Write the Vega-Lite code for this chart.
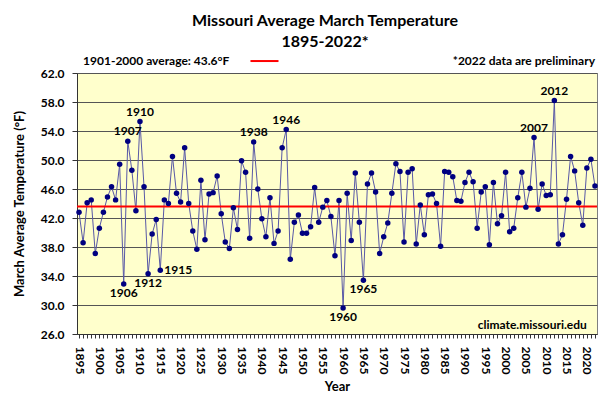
{
  "$schema": "https://vega.github.io/schema/vega-lite/v6.json",
  "width": 520,
  "height": 261,
  "autosize": {"type": "none"},
  "padding": {"left": 77, "top": 73, "right": 3, "bottom": 61},
  "background": "white",
  "config": {
    "font": "Lato",
    "view": {"fill": "#FFFFCC", "stroke": "#7f7f7f", "strokeWidth": 1},
    "axisY": {"labelOverlap": false, "labelFontSize": 12, "labelFontWeight": "bold", "labelColor": "black", "labelPadding": 8, "tickSize": 5, "tickColor": "#333", "domainColor": "#333", "grid": true, "gridColor": "#555555", "gridWidth": 1, "titleFontSize": 13, "titleFontWeight": "bold", "titleColor": "black", "titlePadding": 14}
  },
  "title": {
    "text": ["Missouri Average March Temperature", "1895-2022*"],
    "anchor": "middle",
    "fontSize": 16,
    "fontWeight": "bold",
    "color": "black",
    "dx": -12,
    "offset": 5,
    "lineHeight": 21
  },
  "datasets": {
    "temps": [
      {"Year":1895,"Temp":42.8},{"Year":1896,"Temp":38.6},{"Year":1897,"Temp":44.1},{"Year":1898,"Temp":44.5},{"Year":1899,"Temp":37.1},
      {"Year":1900,"Temp":40.6},{"Year":1901,"Temp":42.8},{"Year":1902,"Temp":44.9},{"Year":1903,"Temp":46.3},{"Year":1904,"Temp":44.5},
      {"Year":1905,"Temp":49.4},{"Year":1906,"Temp":32.9},{"Year":1907,"Temp":52.6},{"Year":1908,"Temp":48.6},{"Year":1909,"Temp":43.0},
      {"Year":1910,"Temp":55.3},{"Year":1911,"Temp":46.3},{"Year":1912,"Temp":34.3},{"Year":1913,"Temp":39.8},{"Year":1914,"Temp":41.8},
      {"Year":1915,"Temp":34.8},{"Year":1916,"Temp":44.5},{"Year":1917,"Temp":44.0},{"Year":1918,"Temp":50.5},{"Year":1919,"Temp":45.4},
      {"Year":1920,"Temp":44.2},{"Year":1921,"Temp":51.7},{"Year":1922,"Temp":44.0},{"Year":1923,"Temp":40.2},{"Year":1924,"Temp":37.7},
      {"Year":1925,"Temp":47.2},{"Year":1926,"Temp":39.0},{"Year":1927,"Temp":45.3},{"Year":1928,"Temp":45.5},{"Year":1929,"Temp":47.8},
      {"Year":1930,"Temp":42.6},{"Year":1931,"Temp":38.7},{"Year":1932,"Temp":37.8},{"Year":1933,"Temp":43.4},{"Year":1934,"Temp":40.4},
      {"Year":1935,"Temp":49.9},{"Year":1936,"Temp":48.3},{"Year":1937,"Temp":39.2},{"Year":1938,"Temp":52.5},{"Year":1939,"Temp":46.0},
      {"Year":1940,"Temp":41.9},{"Year":1941,"Temp":39.4},{"Year":1942,"Temp":44.8},{"Year":1943,"Temp":38.5},{"Year":1944,"Temp":40.2},
      {"Year":1945,"Temp":51.7},{"Year":1946,"Temp":54.2},{"Year":1947,"Temp":36.3},{"Year":1948,"Temp":41.4},{"Year":1949,"Temp":42.4},
      {"Year":1950,"Temp":39.9},{"Year":1951,"Temp":39.9},{"Year":1952,"Temp":40.8},{"Year":1953,"Temp":46.2},{"Year":1954,"Temp":41.4},
      {"Year":1955,"Temp":43.5},{"Year":1956,"Temp":44.4},{"Year":1957,"Temp":42.2},{"Year":1958,"Temp":36.8},{"Year":1959,"Temp":44.4},
      {"Year":1960,"Temp":29.6},{"Year":1961,"Temp":45.4},{"Year":1962,"Temp":38.9},{"Year":1963,"Temp":48.2},{"Year":1964,"Temp":41.4},
      {"Year":1965,"Temp":33.4},{"Year":1966,"Temp":46.7},{"Year":1967,"Temp":48.2},{"Year":1968,"Temp":45.6},{"Year":1969,"Temp":37.1},
      {"Year":1970,"Temp":39.4},{"Year":1971,"Temp":41.3},{"Year":1972,"Temp":45.4},{"Year":1973,"Temp":49.5},{"Year":1974,"Temp":48.4},
      {"Year":1975,"Temp":38.7},{"Year":1976,"Temp":48.3},{"Year":1977,"Temp":48.8},{"Year":1978,"Temp":38.4},{"Year":1979,"Temp":43.8},
      {"Year":1980,"Temp":39.7},{"Year":1981,"Temp":45.2},{"Year":1982,"Temp":45.3},{"Year":1983,"Temp":44.0},{"Year":1984,"Temp":38.1},
      {"Year":1985,"Temp":48.4},{"Year":1986,"Temp":48.3},{"Year":1987,"Temp":47.7},{"Year":1988,"Temp":44.4},{"Year":1989,"Temp":44.3},
      {"Year":1990,"Temp":46.9},{"Year":1991,"Temp":48.3},{"Year":1992,"Temp":47.0},{"Year":1993,"Temp":40.6},{"Year":1994,"Temp":45.6},
      {"Year":1995,"Temp":46.3},{"Year":1996,"Temp":38.3},{"Year":1997,"Temp":46.9},{"Year":1998,"Temp":41.2},{"Year":1999,"Temp":42.3},
      {"Year":2000,"Temp":48.3},{"Year":2001,"Temp":40.1},{"Year":2002,"Temp":40.6},{"Year":2003,"Temp":44.8},{"Year":2004,"Temp":48.3},
      {"Year":2005,"Temp":43.5},{"Year":2006,"Temp":46.1},{"Year":2007,"Temp":53.1},{"Year":2008,"Temp":43.2},{"Year":2009,"Temp":46.7},
      {"Year":2010,"Temp":45.1},{"Year":2011,"Temp":45.2},{"Year":2012,"Temp":58.2},{"Year":2013,"Temp":38.4},{"Year":2014,"Temp":39.7},
      {"Year":2015,"Temp":44.6},{"Year":2016,"Temp":50.5},{"Year":2017,"Temp":48.5},{"Year":2018,"Temp":44.1},{"Year":2019,"Temp":41.0},
      {"Year":2020,"Temp":48.9},{"Year":2021,"Temp":50.1},{"Year":2022,"Temp":46.4}
    ],
    "notes": [
      {"label": "1901-2000 average: 43.6°F"},
      {"label": "*2022 data are preliminary"},
      {"label": "climate.missouri.edu"}
    ]
  },
  "layer": [
    {
      "data": {"name": "temps"},
      "mark": {"type": "line", "color": "#5858a6", "strokeWidth": 1},
      "encoding": {
        "x": {
          "field": "Year",
          "type": "quantitative",
          "scale": {"domain": [1894.5, 2022.5], "nice": false, "zero": false},
          "axis": {
            "title": "Year",
            "tickCount": 128,
            "labelExpr": "datum.value % 5 == 0 ? '' + datum.value : ''",
            "labelAngle": 90,
            "labelAlign": "left",
            "labelBaseline": "middle",
            "labelFontSize": 12,
            "labelFontWeight": "bold",
            "labelColor": "black",
            "labelOverlap": false,
            "labelFlush": false,
            "labelBound": false,
            "labelPadding": 8,
            "tickSize": 4,
            "tickColor": "#333",
            "domainColor": "#333",
            "grid": false,
            "titleFontSize": 13,
            "titleFontWeight": "bold",
            "titleColor": "black",
            "titlePadding": 7
          }
        },
        "y": {
          "field": "Temp",
          "type": "quantitative",
          "scale": {"domain": [26, 62], "nice": false, "zero": false},
          "axis": {"title": "March Average Temperature (°F)", "values": [26, 30, 34, 38, 42, 46, 50, 54, 58, 62], "format": ".1f"}
        }
      }
    },
    {
      "data": {"name": "notes"},
      "transform": [{"filter": "datum.label == 'climate.missouri.edu'"}],
      "mark": {"type": "rule", "color": "#FF0000", "strokeWidth": 2},
      "encoding": {"y": {"datum": 43.6, "type": "quantitative", "axis": {"title": "March Average Temperature (°F)", "values": [26, 30, 34, 38, 42, 46, 50, 54, 58, 62], "format": ".1f"}}}
    },
    {
      "data": {"name": "temps"},
      "mark": {"type": "point", "filled": true, "color": "#000080", "size": 30, "opacity": 1},
      "encoding": {
        "x": {"field": "Year", "type": "quantitative"},
        "y": {"field": "Temp", "type": "quantitative", "axis": {"title": "March Average Temperature (°F)", "values": [26, 30, 34, 38, 42, 46, 50, 54, 58, 62], "format": ".1f"}}
      }
    },
    {
      "data": {"name": "temps"},
      "transform": [{"filter": {"field": "Year", "oneOf": [1907, 1910, 1938, 1946, 2007, 2012]}}],
      "mark": {"type": "text", "align": "center", "baseline": "alphabetic", "dy": -6, "fontSize": 12, "fontWeight": "bold", "color": "black"},
      "encoding": {
        "x": {"field": "Year", "type": "quantitative"},
        "y": {"field": "Temp", "type": "quantitative", "axis": {"title": "March Average Temperature (°F)", "values": [26, 30, 34, 38, 42, 46, 50, 54, 58, 62], "format": ".1f"}},
        "text": {"field": "Year", "type": "nominal"}
      }
    },
    {
      "data": {"name": "temps"},
      "transform": [{"filter": {"field": "Year", "oneOf": [1906, 1912, 1960, 1965]}}],
      "mark": {"type": "text", "align": "center", "baseline": "top", "dy": 4, "fontSize": 12, "fontWeight": "bold", "color": "black"},
      "encoding": {
        "x": {"field": "Year", "type": "quantitative"},
        "y": {"field": "Temp", "type": "quantitative", "axis": {"title": "March Average Temperature (°F)", "values": [26, 30, 34, 38, 42, 46, 50, 54, 58, 62], "format": ".1f"}},
        "text": {"field": "Year", "type": "nominal"}
      }
    },
    {
      "data": {"name": "temps"},
      "transform": [{"filter": {"field": "Year", "oneOf": [1915]}}],
      "mark": {"type": "text", "align": "left", "baseline": "middle", "dx": 4, "fontSize": 12, "fontWeight": "bold", "color": "black"},
      "encoding": {
        "x": {"field": "Year", "type": "quantitative"},
        "y": {"field": "Temp", "type": "quantitative", "axis": {"title": "March Average Temperature (°F)", "values": [26, 30, 34, 38, 42, 46, 50, 54, 58, 62], "format": ".1f"}},
        "text": {"field": "Year", "type": "nominal"}
      }
    },
    {
      "data": {"name": "notes"},
      "transform": [{"filter": "datum.label == '1901-2000 average: 43.6°F'"}],
      "mark": {"type": "text", "align": "left", "baseline": "middle", "fontSize": 12, "fontWeight": "bold", "color": "black", "clip": false},
      "encoding": {
        "x": {"datum": 1896.0, "type": "quantitative"},
        "y": {"datum": 63.65, "type": "quantitative", "axis": {"title": "March Average Temperature (°F)", "values": [26, 30, 34, 38, 42, 46, 50, 54, 58, 62], "format": ".1f"}},
        "text": {"field": "label", "type": "nominal"}
      }
    },
    {
      "data": {"name": "notes"},
      "transform": [{"filter": "datum.label == '1901-2000 average: 43.6°F'"}],
      "mark": {"type": "rule", "color": "#FF0000", "strokeWidth": 2, "clip": false},
      "encoding": {
        "x": {"datum": 1937.2, "type": "quantitative"},
        "x2": {"datum": 1944.1},
        "y": {"datum": 63.65, "type": "quantitative", "axis": {"title": "March Average Temperature (°F)", "values": [26, 30, 34, 38, 42, 46, 50, 54, 58, 62], "format": ".1f"}}
      }
    },
    {
      "data": {"name": "notes"},
      "transform": [{"filter": "datum.label == '*2022 data are preliminary'"}],
      "mark": {"type": "text", "align": "right", "baseline": "middle", "fontSize": 12, "fontWeight": "bold", "color": "black", "clip": false},
      "encoding": {
        "x": {"datum": 2022.0, "type": "quantitative"},
        "y": {"datum": 63.65, "type": "quantitative", "axis": {"title": "March Average Temperature (°F)", "values": [26, 30, 34, 38, 42, 46, 50, 54, 58, 62], "format": ".1f"}},
        "text": {"field": "label", "type": "nominal"}
      }
    },
    {
      "data": {"name": "notes"},
      "transform": [{"filter": "datum.label == 'climate.missouri.edu'"}],
      "mark": {"type": "text", "align": "right", "baseline": "middle", "fontSize": 12, "fontWeight": "bold", "color": "black"},
      "encoding": {
        "x": {"datum": 2020.0, "type": "quantitative"},
        "y": {"datum": 27.3, "type": "quantitative", "axis": {"title": "March Average Temperature (°F)", "values": [26, 30, 34, 38, 42, 46, 50, 54, 58, 62], "format": ".1f"}},
        "text": {"field": "label", "type": "nominal"}
      }
    }
  ]
}
